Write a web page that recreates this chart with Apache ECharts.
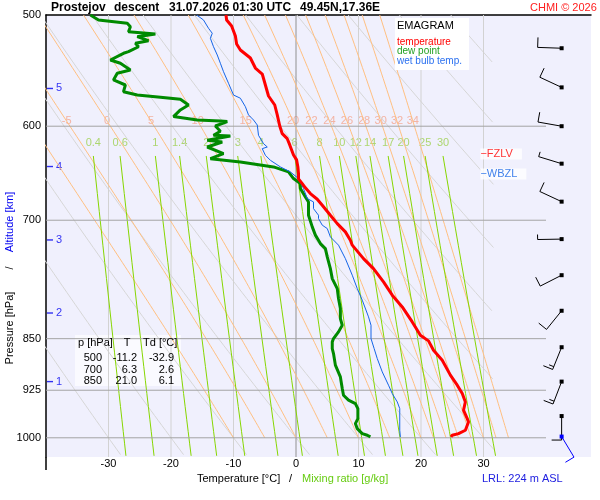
<!DOCTYPE html>
<html lang="en">
<head>
  <meta charset="UTF-8">
  <title>Emagram</title>
  <script src="https://cdn.jsdelivr.net/npm/echarts@6/dist/echarts.min.js"></script>
  <style>
    html,
    body {
      margin: 0;
      padding: 0;
      background: #fff;
    }

    #chart {
      width: 600px;
      height: 500px;
    }
  </style>
</head>
<body>
  <div id="chart"></div>
<script>
  // temperature profile
  var tempP = [500, 504.1, 509.1, 517.5, 524.3, 529.5, 536.5, 545.4, 550.8, 560.8, 571.0, 579.5, 589.0, 599.8, 607.4, 612.4, 618.7, 623.8, 629.0, 634.1, 641.4, 648.5, 654.1, 659.2, 663.8, 670.1, 676.3, 683.0, 694.3, 703.9, 713.5, 723.3, 729.2, 745.5, 757.8, 774.5, 791.5, 806.9, 827.0, 845.2, 853.1, 866.2, 880.5, 902.4, 917.4, 930.1, 942.9, 955.8, 969.1, 974.3, 987.7, 993.2, 995.8, 998.6]
  var tempT = [-11.2, -11.1, -10.3, -9.7, -9.5, -8.9, -7.3, -6.5, -5.4, -4.9, -4.4, -3.4, -3.0, -2.6, -2.2, -1.4, -1.0, -0.7, -0.4, 0.1, 0.3, 0.4, 0.4, 1.0, 1.5, 2.3, 3.4, 4.2, 5.5, 6.6, 7.9, 8.7, 9.0, 10.8, 12.4, 14.0, 15.4, 17.0, 18.6, 19.9, 21.2, 22.0, 23.4, 24.7, 25.8, 26.6, 27.1, 26.8, 27.4, 27.6, 27.1, 26.0, 25.0, 24.8]
  // dew point profile
  var dewP = [500, 504.1, 506.8, 509.7, 513.9, 515.8, 518.1, 521.5, 523.7, 526.7, 531.0, 532.4, 538.3, 541.2, 547.2, 550.1, 556.2, 560.8, 567.0, 570.1, 572.2, 574.1, 579.5, 584.2, 590.6, 593.9, 594.9, 595.5, 599.8, 605.0, 609.0, 609.7, 614.0, 615.7, 620.8, 627.6, 632.8, 636.2, 641.4, 646.7, 653.8, 659.2, 664.6, 673.7, 679.3, 694.3, 707.7, 717.3, 727.3, 733.3, 743.4, 757.8, 770.3, 783.0, 795.9, 809.1, 822.5, 831.5, 840.6, 849.9, 854.5, 863.9, 871.1, 887.7, 905.0, 922.5, 932.6, 940.2, 945.5, 953.3, 969.1, 977.0, 985.1, 993.2, 995.8, 998.6]
  var dewT = [-32.9, -31.6, -27.0, -26.5, -26.8, -22.5, -25.4, -23.6, -25.7, -25.2, -26.8, -27.6, -29.7, -28.1, -26.5, -28.6, -29.2, -27.3, -27.6, -25.4, -21.7, -18.5, -17.2, -18.5, -19.6, -15.8, -12.1, -11.0, -12.9, -12.1, -13.2, -10.5, -14.2, -11.8, -14.2, -11.6, -13.7, -8.9, -3.6, -1.2, -0.4, 0.7, 0.7, 1.5, 2.0, 2.0, 2.6, 3.1, 3.9, 4.7, 5.0, 5.5, 5.8, 6.6, 6.8, 7.1, 7.1, 7.4, 6.8, 6.0, 5.8, 5.8, 6.0, 6.3, 7.1, 7.4, 7.6, 8.4, 9.5, 9.9, 9.9, 9.5, 9.8, 10.6, 11.4, 11.9]
  // wet bulb profile
  var wetP = [500, 504.1, 511.0, 515.2, 519.5, 526.7, 533.9, 541.2, 548.7, 559.2, 570.1, 573.1, 581.1, 589.0, 593.9, 598.8, 609.0, 617.4, 620.8, 622.5, 629.3, 634.5, 641.4, 646.7, 653.8, 664.6, 675.6, 679.3, 686.8, 694.3, 698.1, 705.7, 709.6, 719.4, 729.2, 745.5, 766.0, 783.0, 798.0, 820.2, 831.5, 849.9, 863.9, 878.2, 897.6, 917.4, 930.1, 942.9, 953.3, 974.3, 987.7, 998.6]
  var wetT = [-15.9, -14.8, -14.0, -13.4, -13.7, -13.2, -12.6, -12.1, -11.6, -10.8, -10.0, -8.9, -8.1, -7.6, -6.8, -6.2, -6.0, -5.2, -4.6, -5.4, -4.9, -4.1, -2.5, -0.9, 0.4, 1.2, 1.8, 2.8, 2.8, 3.6, 3.6, 4.2, 5.0, 5.5, 6.8, 7.9, 9.0, 9.8, 10.6, 11.6, 12.0, 12.0, 12.5, 13.0, 13.8, 14.8, 15.4, 16.2, 16.6, 16.6, 16.6, 16.7]

  // wind (direction from, speed) every 500 m
  var windP = [528, 563, 600, 638, 679, 722, 766, 812, 862, 912, 965, 998]
  var windDir = [272, 295, 280, 287, 295, 269, 243, 219, 202, 201, 180, 149]
  var windSpd = [10, 10, 10, 5, 10, 5, 10, 10, 15, 15, 10, 10]

  // altitude marks [km] and their pressure
  var altKm = [1, 2, 3, 4, 5]
  var altP = [912, 815, 723, 641, 564]
  var fzlvP = 628
  var wbzlP = 649

  // diagram background lines
  var isobars = [600, 700, 850, 925, 1000]
  var isotherms = [-30, -20, -10, 10, 20, 30]
  var dryTheta = [-30, -20, -10, 0, 10, 20, 30, 40, 50, 60, 70, 80, 90]
  var moistThetaW = [-10, -5, 0, 5, 10, 15, 20, 22, 24, 26, 28, 30, 32, 34]
  var mixRatio = [0.4, 0.6, 1, 1.4, 2, 3, 4, 6, 8, 10, 12, 14, 17, 20, 25, 30]
  var pressLabels = [500, 600, 700, 850, 925, 1000]
  var tempLabels = [-30, -20, -10, 0, 10, 20, 30]

  // table
  var tableP = ['500', '700', '850']
  var tableT = ['-11.2', '6.3', '21.0']
  var tableTd = ['-32.9', '2.6', '6.1']

  var FONT = 'Liberation Sans, Arial, sans-serif'
  var pTop = 500
  var pBottom = 1032
  var barbT = 42.5

  function lp(p) {
    return Math.log10(p)
  }

  function profile(ps, ts) {
    return ps.map(function (p, i) {
      return [ts[i], lp(p)]
    })
  }

  // thermodynamics for the background lines
  function satVap(tc) {
    return 6.112 * Math.exp(17.67 * tc / (tc + 243.5))
  }

  function moistLapse(tk, p) {
    var Rd = 287.04, cp = 1005.7, L = 2.501e6, eps = 0.622
    var es = satVap(tk - 273.15)
    var rs = eps * es / (p - es)
    return (Rd * tk + L * rs) / p / (cp + L * L * rs * eps / (Rd * tk * tk))
  }

  function moistLine(tw) {
    var pts = []
    var tk = tw + 273.15
    var p = 1000
    var dp = -5
    pts.push([tw, lp(p)])
    while (p > pTop) {
      var k1 = moistLapse(tk, p)
      var k2 = moistLapse(tk + k1 * dp, p + dp)
      tk += (k1 + k2) / 2 * dp
      p += dp
      pts.push([tk - 273.15, lp(p)])
    }
    return pts
  }

  function moistAt(tw, pp) {
    var pts = moistLine(tw)
    var target = lp(pp)
    for (var i = 1; i < pts.length; i++) {
      if (pts[i][1] <= target) {
        var f = (pts[i - 1][1] - target) / (pts[i - 1][1] - pts[i][1])
        return pts[i - 1][0] + f * (pts[i][0] - pts[i - 1][0])
      }
    }
    return pts[pts.length - 1][0]
  }

  function dryLine(th) {
    var pts = []
    for (var p = pTop; p <= pBottom; p += 8) {
      var t = (th + 273.15) * Math.pow(p / 1000, 0.2857) - 273.15
      if (t > 32) break
      pts.push([t, lp(p)])
    }
    return pts
  }

  function mixTd(w, p) {
    var e = w * p / (622 + w)
    var a = Math.log(e / 6.112)
    return 243.5 * a / (17.67 - a)
  }

  function mixLine(w) {
    var pts = []
    for (var p = 630; p <= pBottom + 1; p += 20) {
      pts.push([mixTd(w, p), lp(p)])
    }
    return pts
  }

  function bgLine(data, color, width) {
    return {
      type: 'line',
      data: data,
      showSymbol: false,
      silent: true,
      animation: false,
      lineStyle: { color: color, width: width || 1 }
    }
  }

  var series = []
  dryTheta.forEach(function (th) {
    series.push(bgLine(dryLine(th), '#d6d6d6'))
  })
  isotherms.forEach(function (t) {
    series.push(bgLine([[t, lp(pTop)], [t, lp(pBottom)]], '#d2d2d2'))
  })
  series.push(bgLine([[0, lp(pTop)], [0, lp(pBottom)]], '#909090'))
  moistThetaW.forEach(function (tw) {
    series.push(bgLine(moistLine(tw), '#ffbf80'))
  })
  mixRatio.forEach(function (w) {
    series.push(bgLine(mixLine(w), '#86d600'))
  })
  isobars.forEach(function (p) {
    series.push(bgLine([[-40, lp(p)], [40, lp(p)]], '#a4a4a4'))
  })

  // labels of moist adiabats and mixing ratio lines
  series.push({
    type: 'scatter',
    symbolSize: 0,
    silent: true,
    animation: false,
    data: moistThetaW.filter(function (tw) { return tw > -10 }).map(function (tw) {
      return { value: [moistAt(tw, 595), lp(595)], name: String(tw) }
    }),
    label: { show: true, position: 'inside', formatter: '{b}', color: '#f4a48c', fontSize: 11, fontFamily: FONT }
  })
  series.push({
    type: 'scatter',
    symbolSize: 0,
    silent: true,
    animation: false,
    data: mixRatio.map(function (w) {
      return { value: [mixTd(w, 630), lp(617)], name: String(w) }
    }),
    label: { show: true, position: 'inside', formatter: '{b}', color: '#9ccf4c', fontSize: 11, fontFamily: FONT }
  })

  // sounding curves
  series.push({
    type: 'line', data: profile(dewP, dewT), showSymbol: false, animation: false,
    lineStyle: { color: '#008a00', width: 3 }
  })
  series.push({
    type: 'line', data: profile(wetP, wetT), showSymbol: false, animation: false,
    lineStyle: { color: '#1464e6', width: 1 }
  })
  series.push({
    type: 'line', data: profile(tempP, tempT), showSymbol: false, animation: false,
    lineStyle: { color: '#ff0000', width: 3 }
  })

  // altitude marks
  series.push({
    type: 'scatter',
    symbol: 'rect',
    symbolSize: [6, 1.4],
    symbolOffset: [4, 0],
    silent: true,
    animation: false,
    itemStyle: { color: '#0000f0' },
    data: altKm.map(function (km, i) {
      return { value: [-40, lp(altP[i])], name: String(km) }
    }),
    label: { show: true, position: 'right', distance: 3, formatter: '{b}', color: '#0000f0', fontSize: 11, fontFamily: FONT }
  })

  // freezing level / wet bulb zero
  series.push({
    type: 'scatter',
    symbolSize: 0,
    silent: true,
    animation: false,
    z: 5,
    data: [
      { value: [29.5, lp(fzlvP)], name: 'FZLV', label: { color: '#ff0000' } },
      { value: [29.5, lp(wbzlP)], name: 'WBZL', label: { color: '#1464e6' } }
    ],
    label: {
      show: true, position: 'right', distance: 0, formatter: '−{b}',
      fontSize: 11, fontFamily: FONT, backgroundColor: '#fff', padding: [0, 9, 0, 0], lineHeight: 11
    }
  })

  // wind barbs
  series.push({
    type: 'custom',
    silent: true,
    animation: false,
    z: 6,
    data: windP.map(function (p) { return [barbT, lp(p)] }),
    renderItem: function (params, api) {
      var i = params.dataIndex
      var pt = api.coord([api.value(0), api.value(1)])
      var b = windDir[i] * Math.PI / 180
      var ux = Math.sin(b), uy = -Math.cos(b)
      var vx = Math.sin(b + Math.PI / 2), vy = -Math.cos(b + Math.PI / 2)
      var len = 24
      var color = i === windP.length - 1 ? '#0000ff' : '#000'
      var tip = [pt[0] + ux * len, pt[1] + uy * len]
      var kids = [
        { type: 'line', shape: { x1: pt[0], y1: pt[1], x2: tip[0], y2: tip[1] }, style: { stroke: color, lineWidth: 1 } },
        { type: 'rect', shape: { x: pt[0] - 2, y: pt[1] - 2, width: 4, height: 4 }, style: { fill: color } }
      ]
      var spd = windSpd[i]
      var pos = 0
      while (spd >= 5) {
        var bl = spd >= 10 ? 10 : 5
        var sx = tip[0] - ux * pos, sy = tip[1] - uy * pos
        kids.push({ type: 'line', shape: { x1: sx, y1: sy, x2: sx + vx * bl, y2: sy + vy * bl }, style: { stroke: color, lineWidth: 1 } })
        spd -= bl
        pos += 3
      }
      return { type: 'group', children: kids }
    }
  })

  var myChart = echarts.init(document.getElementById('chart'))

  function txt(x, y, s, font, fill, align) {
    return {
      type: 'text', z: 101, x: x, y: y,
      style: { text: s, font: font + ' ' + FONT, fill: fill, align: align || 'left', verticalAlign: 'middle' }
    }
  }

  var graphics = [
    { type: 'line', z: 100, shape: { x1: 46, y1: 457, x2: 46, y2: 470 }, style: { stroke: '#000', lineWidth: 1.5 } },
    txt(51, 8, 'Prostejov', 'bold 12px', '#000'),
    txt(114, 8, 'descent', 'bold 12px', '#000'),
    txt(169, 8, '31.07.2026 01:30 UTC', 'bold 12px', '#000'),
    txt(300, 8, '49.45N,17.36E', 'bold 12px', '#000'),
    txt(530, 8, 'CHMI © 2026', '11px', '#ff2020'),
    // legend box
    { type: 'rect', z: 100, shape: { x: 395, y: 18, width: 74, height: 52 }, style: { fill: '#fff' } },
    txt(397, 26, 'EMAGRAM', '11px', '#000'),
    txt(397, 42, 'temperature', '10px', '#ff0000'),
    txt(397, 51.5, 'dew point', '10px', '#22a022'),
    txt(397, 61.5, 'wet bulb temp.', '10px', '#2a70f0'),
    // table box
    { type: 'rect', z: 1, shape: { x: 75, y: 335, width: 106, height: 51 }, style: { fill: '#fafaff' } },
    txt(78, 343, 'p [hPa]', '11px', '#000'),
    txt(127, 343, 'T', '11px', '#000', 'center'),
    txt(143, 343, 'Td [°C]', '11px', '#000'),
    // axis names
    {
      type: 'text', z: 100, x: 10, y: 328, rotation: Math.PI / 2,
      style: { text: 'Pressure [hPa]', font: '11px ' + FONT, fill: '#000', align: 'center', verticalAlign: 'middle' }
    },
    {
      type: 'text', z: 100, x: 10, y: 268, rotation: Math.PI / 2,
      style: { text: '/', font: '11px ' + FONT, fill: '#000', align: 'center', verticalAlign: 'middle' }
    },
    {
      type: 'text', z: 100, x: 10, y: 222, rotation: Math.PI / 2,
      style: { text: 'Altitude [km]', font: '11px ' + FONT, fill: '#0000f0', align: 'center', verticalAlign: 'middle' }
    },
    txt(197, 479, 'Temperature [°C]', '11px', '#000'),
    txt(289, 479, '/', '11px', '#000'),
    txt(302, 479, 'Mixing ratio [g/kg]', '11px', '#66cc11'),
    txt(482, 479, 'LRL: 224 m ASL', '11px', '#2020e0')
  ]
  tableP.forEach(function (p, i) {
    var y = 358 + i * 11.5
    graphics.push(txt(102, y, p, '11px', '#000', 'right'))
    graphics.push(txt(137, y, tableT[i], '11px', '#000', 'right'))
    graphics.push(txt(174, y, tableTd[i], '11px', '#000', 'right'))
  })

  let option = {
    backgroundColor: '#fff',
    animation: false,
    grid: {
      left: 46,
      top: 15,
      width: 545,
      height: 442,
      show: true,
      backgroundColor: '#f0f0fd',
      borderWidth: 0
    },
    xAxis: [
      {
        type: 'value', min: -40, max: 47.2, position: 'bottom',
        axisLine: { show: false }, axisTick: { show: false }, splitLine: { show: false },
        axisLabel: { customValues: tempLabels, color: '#000', fontSize: 11, fontFamily: FONT, margin: 1 }
      },
      {
        type: 'value', min: -40, max: 47.2, position: 'top',
        axisLine: { show: true, onZero: false, lineStyle: { color: '#000', width: 1.5 } },
        axisTick: { show: false }, axisLabel: { show: false }, splitLine: { show: false }
      }
    ],
    yAxis: {
      type: 'value',
      inverse: true,
      min: lp(pTop),
      max: lp(pBottom),
      axisLine: { show: true, onZero: false, lineStyle: { color: '#000', width: 1.5 } },
      axisTick: { show: false },
      splitLine: { show: false },
      axisLabel: {
        customValues: pressLabels.map(lp),
        formatter: function (v) { return String(Math.round(Math.pow(10, v))) },
        color: '#000', fontSize: 11, fontFamily: FONT, margin: 5
      }
    },
    series: series,
    graphic: graphics
  }
  myChart.setOption(option)
</script>
</body>
</html>
